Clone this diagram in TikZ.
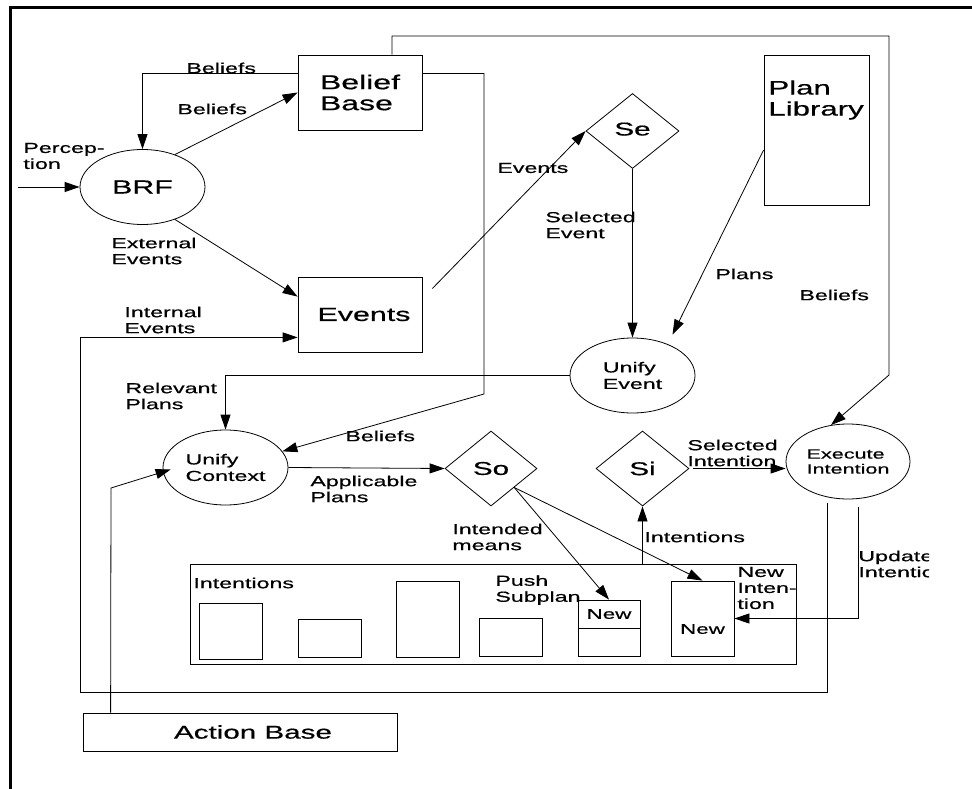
\documentclass[tikz,border=0pt]{standalone}
\usepackage{fontspec}
\setmainfont[FakeStretch=1.6,FakeBold=0.6]{Liberation Sans}
\usetikzlibrary{shapes.geometric,arrows.meta,calc}
\begin{document}
\begin{tikzpicture}[x=1pt,y=-1pt,line width=0.8pt,
  arr/.style={-{Triangle[length=15pt,width=10pt]}},
  box/.style={draw, rectangle, inner sep=0pt},
  ell/.style={draw, ellipse, inner sep=0pt, minimum width=125pt, minimum height=75pt, align=left},
  dia/.style={draw, diamond, inner sep=0pt, minimum width=93pt, minimum height=75pt},
  lab/.style={anchor=west, inner sep=0pt, align=left, font=\fontsize{14.5}{16}\selectfont},
  big/.style={font=\fontsize{19}{21}\selectfont},
  mid/.style={font=\fontsize{14.5}{16.5}\selectfont},
]
\useasboundingbox (0,0) rectangle (972,789);
% frame
\draw[line width=3pt] (10,789) -- (10,8) -- (972,8);

% nodes
\node[box, minimum width=124pt, minimum height=75pt, align=left, font=\fontsize{20}{21}\selectfont] (bb) at (360,92.5) {Belief\\Base};
\node[box, minimum width=124pt, minimum height=75pt, big] (events) at (360,314.5) {\hspace*{8pt}Events};
\node[ell, big] (brf) at (142.5,187) {BRF};
\node[dia, font=\fontsize{18.5}{20}\selectfont] (se) at (632.5,131) {\raisebox{4pt}{Se}};
\node[box, minimum width=105pt, minimum height=150pt] (pl) at (816.5,130) {};
\node[anchor=north west, inner sep=0pt, align=left, font=\fontsize{19.5}{21}\selectfont] (pltxt) at (768,80) {Plan\\Library};
\node[ell, mid] (ue) at (632.5,375.5) {Unify\\Event};
\node[ell, mid] (uc) at (225.5,467.5) {Unify\\Context};
\node[dia, minimum width=92pt, font=\fontsize{18.5}{20}\selectfont] (so) at (491,468.5) {So};
\node[dia, font=\fontsize{18.5}{20}\selectfont] (si) at (642.5,468.5) {Si};
\node[ell, minimum width=124pt, font=\fontsize{13.5}{15}\selectfont] (ei) at (848,461.5) {Execute\\Intention};

\node[box, minimum width=606pt, minimum height=100pt] (cont) at (493,614) {};
\node[box, minimum width=63pt, minimum height=56pt] (b1) at (230.5,631) {};
\node[box, minimum width=63pt, minimum height=38pt] (b2) at (329.5,638) {};
\node[box, minimum width=63pt, minimum height=76pt] (b3) at (427.5,619) {};
\node[box, minimum width=63pt, minimum height=38pt] (b4) at (510.5,637) {};
\node[box, minimum width=62pt, minimum height=56pt] (n1) at (609,628) {};
\draw (n1.west) -- (n1.east);
\node[inner sep=0pt, font=\fontsize{14}{16}\selectfont] (n1txt) at (609,614) {New};
\node[box, minimum width=63pt, minimum height=75pt] (n2) at (702.5,618.5) {};
\node[inner sep=0pt, font=\fontsize{14}{16}\selectfont] (n2txt) at (702.5,629) {New};

\node[box, minimum width=314pt, minimum height=38pt, font=\fontsize{18.5}{20}\selectfont] (ab) at (240,732) {\hspace*{26pt}Action Base};

% labels
\node[lab] (l1) at (186,68) {Beliefs};
\node[lab] (l2) at (177,109) {Beliefs};
\node[lab] (l3) at (23,156) {Percep-\\tion};
\node[lab] (l4) at (111,251) {External\\Events};
\node[lab] (l5) at (124,320) {Internal\\Events};
\node[lab] (l6) at (497,168) {Events};
\node[lab] (l7) at (545,225) {Selected\\Event};
\node[lab] (l8) at (715,274) {Plans};
\node[lab] (l9) at (799,295) {Beliefs};
\node[lab] (l10) at (125,396) {Relevant\\Plans};
\node[lab] (l11) at (345,436) {Beliefs};
\node[lab] (l12) at (310,489) {Applicable\\Plans};
\node[lab] (l13) at (452,537) {Intended\\means};
\node[lab] (l14) at (687,453) {Selected\\Intention};
\node[lab] (l15) at (644,537) {Intentions};
\node[lab] (l16) at (193,583) {Intentions};
\node[lab] (l17) at (495,590) {Push\\Subplan};
\node[lab] (l18) at (737,588) {New\\Inten-\\tion};
\begin{scope}
\clip (0,0) rectangle (929,789);
\node[lab] (l19) at (858,564) {Update\\Intention};
\end{scope}

% coordinates
\coordinate (pin) at (18,187);
\coordinate (loopbl) at (80,692);
\coordinate (tr) at (889,36);
\coordinate (trb) at (889,375);
\coordinate (bbr) at (484,394);
\coordinate (abk) at (111,488);

% connectors
\draw[arr] (pin) -- (brf.west);
\draw[arr] ($(bb.north west)+(0,19)$) -| (brf.north);
\draw[arr] (brf.45) -- (bb.west);
\draw[arr] (brf.-45) -- ($(events.north west)+(0,20)$);
\draw[arr] ($(ei.south)+(-21,4)$) |- (loopbl) |- ($(events.south west)+(0,-15)$);
\draw[arr] ($(events.east)+(10,-26)$) -- (se.west);
\draw[arr] (se.south) -- (se.south |- ue.north);
\draw[arr] ($(pl.west)+(0,20)$) -- ($(ue.north)+(40,-3)$);
\draw[arr] ($(bb.north)+(32,0)$) |- (tr) -- (trb) -- (ei.115);
\draw[arr] ($(bb.north east)+(0,19)$) -| (bbr) -- (uc);
\draw[arr] (ue.west) -| (uc.north);
\draw[arr] (uc.east) -- (so.west);
\draw[arr] (so.south east) -- (n1.north);
\draw[arr] (so.south east) -- (n2.north);
\draw[arr] (si.south |- cont.north) -- (si.south);
\draw[arr] ($(si.east)+(4,0)$) -- (ei.west |- si.east);
\draw[arr] ($(ei.south)+(10,8)$) |- (n2.east);
\draw[arr] ($(ab.north west)+(28,0)$) -- (abk) -- ($(uc.west)+(8,2)$);
\end{tikzpicture}
\end{document}
